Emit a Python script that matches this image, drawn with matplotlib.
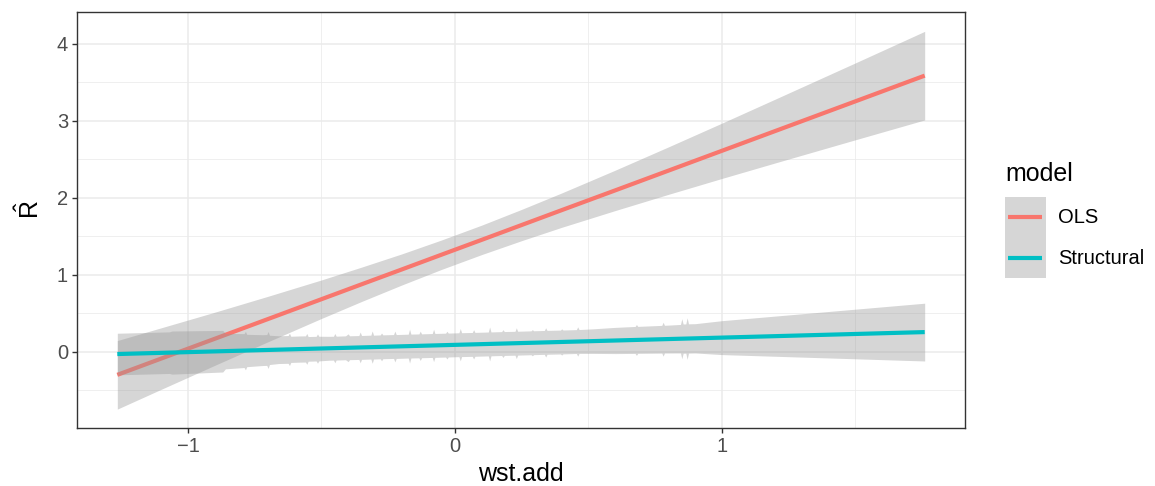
import numpy as np
import matplotlib
matplotlib.use("Agg")
import matplotlib.pyplot as plt
from matplotlib.patches import Rectangle
from matplotlib.lines import Line2D

plt.rcParams['font.family'] = ['Liberation Sans', 'DejaVu Sans']
plt.rcParams['mathtext.fontset'] = 'custom'
plt.rcParams['mathtext.rm'] = 'Liberation Sans'
plt.rcParams['mathtext.it'] = 'Liberation Sans'

# OLS fit and confidence band
ols_x = [-1.265, -1.1, -0.9, -0.7, -0.5, -0.35, -0.2, -0.05, 0.1,
         0.25, 0.4, 0.6, 0.8, 1.0, 1.2, 1.5, 1.76]
ols_fit = [-0.300, -0.088, 0.168, 0.425, 0.682, 0.875, 1.067, 1.260, 1.452,
           1.645, 1.838, 2.094, 2.351, 2.608, 2.865, 3.250, 3.584]
ols_lo = [-0.745, -0.487, -0.177, 0.130, 0.432, 0.652, 0.865, 1.069, 1.261,
          1.442, 1.615, 1.832, 2.043, 2.249, 2.451, 2.751, 3.009]
ols_hi = [0.145, 0.311, 0.513, 0.720, 0.932, 1.098, 1.269, 1.451, 1.643,
          1.848, 2.061, 2.356, 2.659, 2.967, 3.279, 3.749, 4.159]

# Structural fit
struct_line_x = [-1.265, 1.76]
struct_line_y = [-0.03, 0.255]

# Structural band (jagged part up to ~0.9, smooth after)
struct_x = [-1.265, -1.07, -1.06, -0.87, -0.86, -0.79, -0.785, -0.78, -0.72, -0.705,
            -0.70, -0.695, -0.66, -0.625, -0.62, -0.615, -0.58, -0.56, -0.555, -0.55,
            -0.52, -0.515, -0.51, -0.47, -0.455, -0.45, -0.445, -0.41, -0.40, -0.395,
            -0.36, -0.355, -0.35, -0.315, -0.31, -0.305, -0.28, -0.275, -0.27, -0.23,
            -0.225, -0.22, -0.175, -0.17, -0.165, -0.135, -0.13, -0.125, -0.085, -0.08,
            -0.075, -0.035, -0.03, -0.025, 0.015, 0.02, 0.025, 0.065, 0.07, 0.075,
            0.125, 0.13, 0.135, 0.175, 0.18, 0.185, 0.225, 0.23, 0.235, 0.285,
            0.29, 0.295, 0.335, 0.34, 0.345, 0.395, 0.40, 0.405, 0.455, 0.46,
            0.465, 0.52, 0.60, 0.675, 0.68, 0.685, 0.775, 0.78, 0.785, 0.845,
            0.85, 0.855, 0.865, 0.87, 0.875, 0.90, 1.00, 1.76]
struct_hi = [0.240, 0.258, 0.269, 0.277, 0.238, 0.235, 0.265, 0.226, 0.221, 0.223,
             0.263, 0.214, 0.207, 0.210, 0.241, 0.201, 0.205, 0.206, 0.237, 0.197,
             0.200, 0.231, 0.201, 0.200, 0.201, 0.237, 0.202, 0.206, 0.232, 0.207,
             0.210, 0.256, 0.211, 0.215, 0.270, 0.215, 0.218, 0.243, 0.219, 0.223,
             0.268, 0.223, 0.228, 0.293, 0.229, 0.231, 0.267, 0.232, 0.236, 0.292,
             0.237, 0.241, 0.266, 0.242, 0.246, 0.301, 0.247, 0.250, 0.286, 0.251,
             0.256, 0.321, 0.257, 0.261, 0.286, 0.262, 0.265, 0.311, 0.266, 0.271,
             0.287, 0.272, 0.276, 0.311, 0.277, 0.281, 0.297, 0.282, 0.287, 0.323,
             0.288, 0.298, 0.316, 0.328, 0.353, 0.329, 0.342, 0.383, 0.343, 0.354,
             0.429, 0.360, 0.361, 0.441, 0.362, 0.364, 0.403, 0.630]
struct_lo = [-0.300, -0.282, -0.291, -0.263, -0.222, -0.205, -0.235, -0.194, -0.179, -0.177,
             -0.217, -0.166, -0.153, -0.150, -0.179, -0.139, -0.135, -0.134, -0.163, -0.123,
             -0.120, -0.149, -0.119, -0.110, -0.109, -0.143, -0.108, -0.104, -0.128, -0.103,
             -0.100, -0.144, -0.099, -0.095, -0.150, -0.095, -0.092, -0.117, -0.091, -0.087,
             -0.132, -0.087, -0.082, -0.147, -0.081, -0.079, -0.113, -0.078, -0.074, -0.128,
             -0.073, -0.069, -0.094, -0.068, -0.064, -0.119, -0.063, -0.060, -0.094, -0.059,
             -0.054, -0.119, -0.053, -0.049, -0.074, -0.048, -0.045, -0.089, -0.044, -0.039,
             -0.053, -0.038, -0.034, -0.069, -0.033, -0.029, -0.043, -0.028, -0.023, -0.057,
             -0.022, -0.022, -0.024, -0.022, -0.047, -0.021, -0.018, -0.057, -0.017, -0.016,
             -0.091, -0.020, -0.019, -0.099, -0.018, -0.016, -0.037, -0.120]

models = ['OLS', 'Structural']
colors = ['#F8766D', '#00BFC4']

W, H = 1155, 486
fig = plt.figure(figsize=(W / 100, H / 100), dpi=100)
ax = fig.add_axes([77 / W, 1 - 428 / H, (965 - 77) / W, (428 - 12) / H])

band = dict(color='#999999', alpha=0.4, linewidth=0)
ax.fill_between(ols_x, ols_lo, ols_hi, zorder=2, **band)
ax.plot(ols_x, ols_fit, color=colors[0], lw=3.0, zorder=3, solid_capstyle='butt')
ax.fill_between(struct_x, struct_lo, struct_hi, zorder=4, **band)
ax.plot(struct_line_x, struct_line_y, color=colors[1], lw=3.0, zorder=5, solid_capstyle='butt')

ax.set_xlim(-1.416, 1.911)
ax.set_ylim(-0.99, 4.41)

ax.set_xticks([-1, 0, 1])
ax.set_xticklabels(['\u22121', '0', '1'])
ax.set_yticks([0, 1, 2, 3, 4])
ax.set_yticklabels(['0', '1', '2', '3', '4'])
ax.set_xticks([-0.5, 0.5, 1.5], minor=True)
ax.set_yticks([-0.5, 0.5, 1.5, 2.5, 3.5], minor=True)
ax.grid(which='major', color='#EBEBEB', lw=1.1, zorder=0)
ax.grid(which='minor', color='#EBEBEB', lw=0.55, zorder=0)
ax.set_axisbelow(True)
ax.tick_params(which='major', length=3.5, width=1.0, color='#333333',
               labelcolor='#4D4D4D', labelsize=14.5, pad=3)
ax.tick_params(which='minor', length=0)
for sp in ax.spines.values():
    sp.set_color('#333333')
    sp.set_linewidth(1.0)

fig.text(521 / W, 1 - 474 / H, 'wst.add', fontsize=18, ha='center', va='center')
fig.text(30 / W, 1 - 210 / H, r'$\hat{\mathrm{R}}$', rotation=90, fontsize=18,
         ha='center', va='center')

# legend
fig.text(1005 / W, 1 - 174 / H, 'model', fontsize=18, ha='left', va='center')
for i, (m, c) in enumerate(zip(models, colors)):
    y0 = 197 + i * 40.5
    fig.patches.append(Rectangle((1005 / W, 1 - (y0 + 40.5) / H), 41 / W, 40.5 / H,
                                 transform=fig.transFigure, facecolor='#D6D6D6',
                                 edgecolor='none'))
    yc = 1 - (y0 + 20.5) / H
    fig.lines.append(Line2D([1008 / W, 1042 / W], [yc, yc], transform=fig.transFigure,
                            color=c, lw=3.0, solid_capstyle='butt'))
    fig.text(1058 / W, yc, m, fontsize=14.5, ha='left', va='center')

fig.savefig('out.png', dpi=100)
